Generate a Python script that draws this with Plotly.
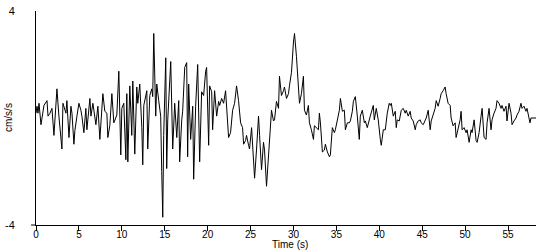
import plotly.graph_objects as go

# Time (s) and acceleration (cm/s/s)
time_s = [
    0.00, 0.12, 0.23, 0.35, 0.58, 0.93, 1.28, 1.40, 1.63, 1.86, 2.09, 2.33, 2.44, 2.67, 2.91, 3.02,
    3.14, 3.49, 3.60, 3.84, 4.07, 4.19, 4.42, 4.53, 4.77, 5.00, 5.23, 5.35, 5.58, 5.81, 5.93, 6.28,
    6.40, 6.63, 6.98, 7.21, 7.44, 7.56, 7.79, 8.02,
    8.26, 8.37, 8.60, 8.84, 9.07, 9.42, 9.65, 9.88, 10.00, 10.23, 10.47, 10.58, 10.70, 10.93, 11.16,
    11.28, 11.51, 11.74, 11.86, 12.09, 12.33, 12.44, 12.56, 12.91, 13.02, 13.26, 13.49, 13.60, 13.72,
    13.95, 14.07, 14.30, 14.53, 14.65, 14.77, 14.88, 15.12, 15.23, 15.35, 15.70, 15.81, 15.93, 16.16,
    16.40,
    16.63, 16.74, 16.98, 17.09, 17.33, 17.56, 17.67, 17.79, 18.02, 18.26, 18.37, 18.60, 18.84, 19.07,
    19.30, 19.53, 19.77, 19.88, 20.12, 20.23, 20.47, 20.58, 20.81, 21.05, 21.28, 21.40, 21.63, 21.86,
    22.09, 22.33, 22.44, 22.67, 22.91, 23.14, 23.37, 23.60, 23.84, 24.07, 24.19, 24.42,
    24.53, 24.77, 24.88, 25.12, 25.35, 25.47, 25.70, 25.93, 26.05, 26.28, 26.51, 26.63, 26.86, 27.09,
    27.21, 27.33, 27.44, 27.67, 27.79, 28.02, 28.26, 28.37, 28.60, 28.84, 28.95, 29.19, 29.42, 29.53,
    29.77, 30.00, 30.12, 30.35, 30.58, 30.70, 30.93, 31.16, 31.28, 31.51, 31.74, 31.86, 32.09, 32.33,
    32.44, 32.67, 32.91,
    33.02, 33.14, 33.37, 33.60, 33.72, 33.95, 34.19, 34.30, 34.53, 34.77, 34.88, 35.12, 35.35, 35.47,
    35.70, 35.93, 36.05, 36.28, 36.51, 36.63, 36.86, 36.98, 37.21, 37.44, 37.67, 37.79, 38.02, 38.26,
    38.37, 38.60, 38.84, 38.95, 39.30, 39.42, 39.65, 39.88, 40.12, 40.23, 40.47, 40.70, 40.93, 41.16,
    41.28, 41.40, 41.63, 41.86, 41.98, 42.09, 42.33, 42.56, 42.79, 43.02, 43.14, 43.37, 43.60, 43.72,
    43.95, 44.19, 44.30, 44.53, 44.77, 44.88, 45.12, 45.35, 45.47, 45.70, 45.93, 46.05, 46.28, 46.51,
    46.63, 46.86, 47.09, 47.21, 47.44, 47.67, 47.79, 48.02, 48.26, 48.37, 48.60, 48.84, 48.95, 49.19,
    49.42,
    49.53, 49.65, 49.88, 50.12, 50.23, 50.47, 50.70, 50.81, 51.05, 51.28, 51.40, 51.63, 51.86, 51.98,
    52.21, 52.44, 52.56, 52.79, 53.02, 53.14, 53.37, 53.60, 53.72, 53.95, 54.19, 54.30, 54.53, 54.77,
    54.88, 55.12, 55.35, 55.47, 55.70, 55.93, 56.05, 56.28, 56.51, 56.63, 56.86, 57.09, 57.21, 57.44,
    57.56, 57.67, 58.26,
]

accel = [
    0.18, 0.44, 0.18, 0.55, -0.25, 0.47, 0.65, 0.07, 0.18, 0.36, -0.65, 0.62, 1.09, 0.07, -0.84, -1.16,
    0.55, 0.18, 0.65, -0.73, 0.44, 0.18, -0.98, -0.47, 0.07, 0.55, 0.29, 0.07, -0.55, 0.36, -0.44, 0.73,
    0.07, 0.55, -0.25, 0.44, -0.80, -0.18, 0.91, 0.25,
    0.18, -0.73, -0.29, 0.91, -0.18, 0.11, 1.75, -1.38, 0.36, 0.55, -1.56, 0.91, -1.64, 1.20, -0.65,
    1.38, -1.35, 1.16, 0.55, 1.27, -0.36, -1.75, 0.47, 1.02, -1.16, 0.84, 1.09, 0.80, 3.16,
    0.07, 1.27, 0.65, 0.07, -2.00, -3.71, -0.65, 2.25, -1.89, -0.07, 2.11, 0.44, -1.16, 0.55,
    -0.73,
    0.65, -1.64, -0.07, 0.25, 1.89, 2.07, -1.45, 1.27, -0.80, 0.44, -2.29, 0.44, 2.00, -1.64,
    0.98, 0.84, 1.75, 1.89, -1.02, 1.20, 0.98, -0.44, 1.02, 0.07, 0.62, 0.47, 0.73, 0.55,
    1.02, -0.44, -0.73, -0.55, 0.29, 0.55, 1.20, 0.65, -0.18, -0.36, -0.98, -0.84,
    -0.65, -1.02, -1.16, -0.36, -1.75, -2.25, -1.16, 0.07, -0.65, -1.93, -0.91, -1.20, -2.55, -1.53,
    -0.73, -0.47, 0.29, -0.11, -0.07, 0.62, 0.36, 1.56, 0.84, 1.02, 1.16, 0.73, 0.91, 1.20,
    1.71, 2.84, 3.16, 2.29, 1.16, 0.55, 0.91, 1.56, 0.29, 0.11, 0.47, -0.18, -0.44, -0.80,
    -0.29, -0.36, -0.44,
    0.18, -0.18, -1.27, -1.20, -0.98, -1.27, -1.45, -1.38, -0.36, -0.55, -0.44, -0.07, 0.29, 0.73,
    0.25, 0.29, -0.44, -0.18, -0.18, -0.11, 0.25, 0.62, 0.80, 0.07, -0.80, 0.07, 0.29, -0.18,
    -0.11, -0.36, 0.00, 0.07, 0.47, -0.07, 0.36, -0.07, -0.80, -1.02, -0.44, -0.44, 0.18, 0.55,
    0.47, 0.55, 0.07, 0.25, -0.36, -0.07, -0.11, 0.29, 0.36, 0.18, 0.29, 0.07, 0.25, 0.00,
    -0.11, -0.44, -0.25, -0.11, -0.07, -0.18, -0.25, -0.11, 0.00, 0.29, -0.44, -0.11, 0.18, 0.36,
    0.65, 0.44, 0.73, 0.91, 1.02, 1.16, 0.91, 0.55, 0.47, 0.00, -0.29, -0.18, -0.73, -0.44,
    -0.07,
    0.25, -0.44, -0.36, -0.55, -0.44, -0.91, -0.44, -0.55, -0.07, -0.84, -0.91, -0.55, 0.07, 0.36,
    -0.73, -0.80, -0.18, 0.36, -0.44, -0.07, 0.18, 0.36, 0.65, 0.55, 0.36, 0.47, 0.25, 0.44,
    -0.11, 0.55, 0.18, -0.25, -0.11, 0.00, 0.11, 0.25, 0.55, 0.36, 0.44, 0.25, 0.36, 0.07,
    -0.18, 0.00, 0.00,
]

x_ticks = [0, 5, 10, 15, 20, 25, 30, 35, 40, 45, 50, 55]
y_ticks = [-4, 4]
y_tick_text = ["-4", "4"]
x_title = "Time (s)"
y_title = "cm/s/s"

font = dict(family="Arial, Liberation Sans, sans-serif", size=11, color="black")
xfont = dict(family="Arial, Liberation Sans, sans-serif", size=10, color="black")

fig = go.Figure()
fig.add_trace(go.Scatter(
    x=time_s, y=accel, mode="lines",
    line=dict(color="black", width=1),
    hoverinfo="skip", showlegend=False,
))

fig.update_layout(
    width=550, height=250,
    margin=dict(l=35, r=14, t=5, b=25, pad=0),
    paper_bgcolor="white", plot_bgcolor="white",
    font=font,
    xaxis=dict(
        range=[0, 58.26], tickvals=x_ticks, ticks="outside", ticklen=5,
        tickcolor="black", tickwidth=1, showline=True, linecolor="black",
        linewidth=1, showgrid=False, zeroline=False, tickfont=xfont,
        ticklabelstandoff=-5, ticklabeloverflow="allow",
    ),
    yaxis=dict(
        range=[-4, 4], tickvals=y_ticks, ticktext=y_tick_text,
        ticks="outside", ticklen=18,
        tickcolor="rgba(0,0,0,0)", showline=True, linecolor="black",
        linewidth=1, showgrid=False, zeroline=False, tickfont=font,
        ticklabeloverflow="allow",
    ),
    shapes=[dict(type="line", xref="paper", yref="paper",
                 x0=-0.01, x1=0, y0=0, y1=0,
                 line=dict(color="black", width=1))],
    annotations=[
        dict(text=x_title, xref="paper", yref="paper", x=0.508, y=-0.092,
             xanchor="center", yanchor="middle", showarrow=False,
             font=dict(family=font["family"], size=10, color="black")),
        dict(text=y_title, xref="paper", yref="paper", x=-0.056, y=0.5,
             xanchor="center", yanchor="middle", textangle=-90, showarrow=False,
             font=dict(family=font["family"], size=10, color="black")),
    ],
)

fig.write_html("out.html")
